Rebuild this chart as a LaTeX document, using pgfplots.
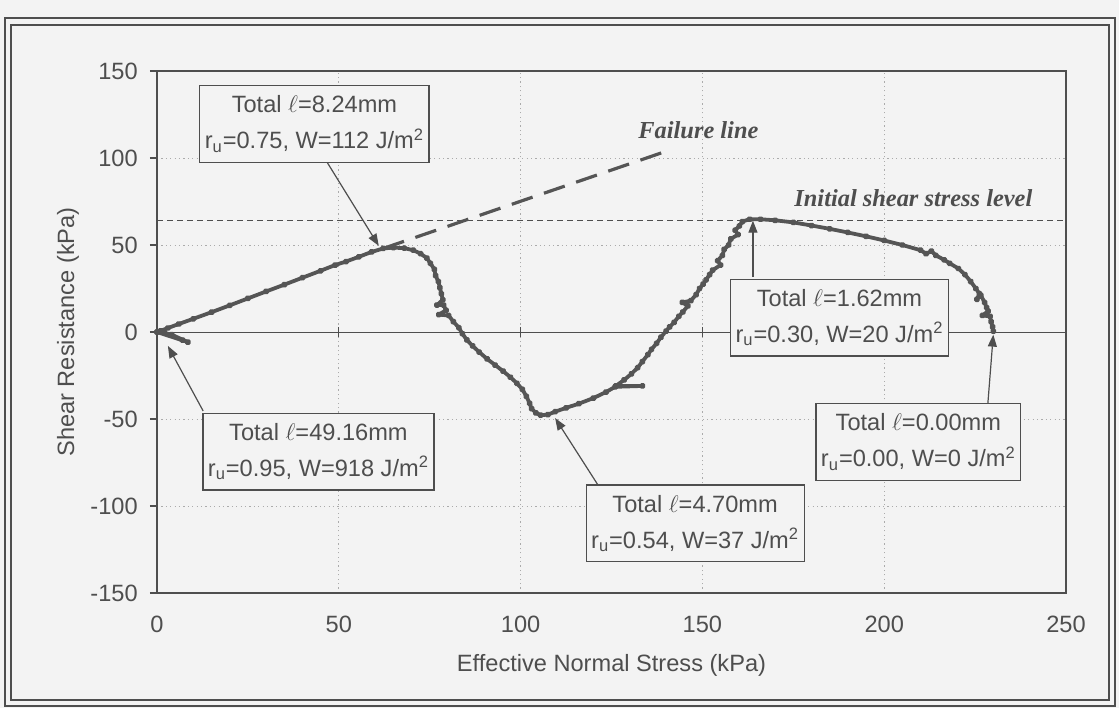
\documentclass[border=0pt]{standalone}
\usepackage{fontspec}
\setmainfont{Liberation Sans}
\newfontfamily\tnr{Liberation Serif}
\usepackage{pgfplots}
\pgfplotsset{compat=1.18}
\usetikzlibrary{arrows.meta}
\definecolor{ink}{HTML}{4E4E4E}
\definecolor{curve}{HTML}{555555}
\definecolor{paper}{HTML}{F3F3F3}
\definecolor{gridc}{HTML}{ABABAB}

\begin{document}
\fontsize{11.8}{14}\selectfont
\begin{tikzpicture}[
  box/.style={draw=ink, line width=0.6pt, fill=paper, align=center, text=ink,
    inner xsep=2.5pt, inner ysep=5pt, font=\fontsize{11.8}{18}\selectfont},
  pointer/.style={ink, line width=0.6pt, -{Triangle[length=6pt,width=4.5pt]}},
  note/.style={anchor=west, inner sep=0pt, text=ink, font=\tnr\bfseries\itshape\fontsize{12.2}{14}\selectfont}
]
% page background and double frame
\fill[paper] (-78.5pt,-57.5pt) rectangle (481pt,296.5pt);
\draw[ink, line width=0.6pt] (-76pt,-56.5pt) rectangle (479pt,287.5pt);
\draw[ink, line width=1.1pt] (-73pt,-53.5pt) rectangle (476pt,284pt);

\begin{axis}[
  at={(0pt,0pt)}, anchor=south west,
  scale only axis, width=454.5pt, height=261pt,
  xmin=0, xmax=250, ymin=-150, ymax=150,
  xtick={0,50,100,150,200,250}, xticklabels={0,50,100,150,200,250},
  ytick={-150,-100,-50,0,50,100,150}, yticklabels={-150,-100,-50,0,50,100,150},
  grid=major,
  major grid style={gridc, dash pattern=on 0.6pt off 1.6pt, line width=0.45pt},
  axis line style={ink, line width=1pt},
  xtick style={draw=none},
  ytick pos=left, tick align=outside, major tick length=3.5pt,
  ytick style={ink, line width=0.6pt},
  xticklabel style={text=ink, yshift=-4pt},
  yticklabel style={text=ink, xshift=-2pt},
  xlabel={Effective Normal Stress (kPa)},
  ylabel={Shear Resistance (kPa)},
  xlabel style={at={(axis description cs:0.5,-0.138)}, anchor=center, text=ink},
  ylabel style={at={(axis description cs:-0.098,0.5)}, anchor=center, text=ink},
  clip=false,
]
% horizontal zero line with its tick marks
\draw[ink, line width=0.5pt] (axis cs:0,0) -- (axis cs:250,0);
\pgfplotsinvokeforeach{50,100,150,200}{
  \draw[ink, line width=0.5pt] ([yshift=-2.5pt]axis cs:#1,0) -- ([yshift=2.5pt]axis cs:#1,0);
}

% initial shear stress level
\addplot[ink, line width=0.6pt, dash pattern=on 3pt off 2pt] coordinates {(0,64.2) (250,64.2)};
% failure envelope
\addplot[curve, line width=1.6pt, dash pattern=on 11pt off 6pt] coordinates {(62.2,48) (141.6,105)};

% stress path
\addplot[curve, line width=1.9pt, line join=round, mark=*, mark size=0.7pt] coordinates {
(230.0,0.5) (229.8,3) (229.4,6) (229.1,9) (227,9.5) (228.6,12) (228.2,14)
(227.6,17) (226.6,21) (225.5,18.8) (226.2,22) (225.2,25) (223.8,29) (222.2,33)
(220.4,36.5) (218,39.5) (216.5,41.5) (214.2,44) (213,46.5) (211.5,45) (210,47)
(205,50) (200,52.6) (195,55) (190,57.2) (185,59.3) (180,61.2) (175,63) (170,64.2)
(166,64.8) (163,64.8) (161,63.5) (160.2,61) (159,58.5) (159.8,56) (157.8,53.5)
(157.2,50) (156,47.5) (155.5,44) (154.2,41) (155,38.5) (152.8,35.5) (152,33)
(151,30) (150.2,27.5) (149.2,25) (148.3,21.5) (146.8,18) (144.5,17) (146,15)
(144.6,11.5) (143.5,9) (142.2,5.5) (141,3) (140,0.5) (138.6,-3) (137.4,-6.5)
(136,-10) (135,-13) (133.5,-17) (132.2,-20.5) (130.5,-24) (128.5,-27.5)
(126.2,-31) (133.5,-31) (126,-31.5) (123.5,-34.5) (120,-38) (116,-41.2)
(112.5,-43.6) (109.5,-45.8) (107.5,-47.5) (105.5,-47.8) (104.2,-46.5) (103,-44)
(102.5,-41) (101.6,-37) (100.5,-33) (99,-29.5) (97.2,-26) (95.2,-22.5) (93,-19)
(90.8,-15.5) (88.6,-11.5) (86.8,-8) (85.2,-4.5) (84,-1) (83,2.5) (81.5,6)
(80.2,9.5) (77.5,10) (79.5,12.5) (78.8,15.5) (77,15.5) (78.6,18.5) (78.2,22)
(77.8,25.5) (77.4,29) (76.6,32.5) (76.3,36) (75.2,39.5) (74.2,42.5) (72.5,45)
(70.5,47) (68,48.2) (65,48.5) (62.2,48) (59,46) (55.5,43.2) (52,40.5) (49,38.5)
(45,35.2) (40,31.2) (35,27.2) (30,23.3) (25,19.3) (20,15.3) (15,11.4)
(10,7.6) (6,4.6) (3,2.3) (1,0.7) (0,0) (8.5,-5.8) (4,-1.5) (0.5,0.2)
(7,-4.6) (2,-0.2) (0,0)
};

% annotations
\draw[pointer] (axis cs:46.8,97.5) -- (axis cs:61,49.5);
\node[box] at (axis cs:43.3,119.5) {Total $\ell$=8.24mm\\r\textsubscript{u}=0.75, W=112 J/m\textsuperscript{2}};

\draw[pointer] (axis cs:12.7,-45.4) -- (axis cs:3,-8);
\node[box] at (axis cs:44.4,-68.7) {Total $\ell$=49.16mm\\r\textsubscript{u}=0.95, W=918 J/m\textsuperscript{2}};

\draw[pointer] (axis cs:121.3,-88) -- (axis cs:109.5,-49.5);
\node[box] at (axis cs:148,-110) {Total $\ell$=4.70mm\\r\textsubscript{u}=0.54, W=37 J/m\textsuperscript{2}};

\draw[pointer] (axis cs:163.9,31.5) -- (axis cs:163.9,64);
\node[box] at (axis cs:187.7,8.3) {Total $\ell$=1.62mm\\r\textsubscript{u}=0.30, W=20 J/m\textsuperscript{2}};

\draw[pointer] (axis cs:228.5,-41.3) -- (axis cs:230,-1.5);
\node[box] at (axis cs:209.4,-63.3) {Total $\ell$=0.00mm\\r\textsubscript{u}=0.00, W=0 J/m\textsuperscript{2}};

\node[note] at (axis cs:132.3,115.8) {Failure line};
\node[note] at (axis cs:175.2,76.7) {Initial shear stress level};
\end{axis}
\end{tikzpicture}
\end{document}
